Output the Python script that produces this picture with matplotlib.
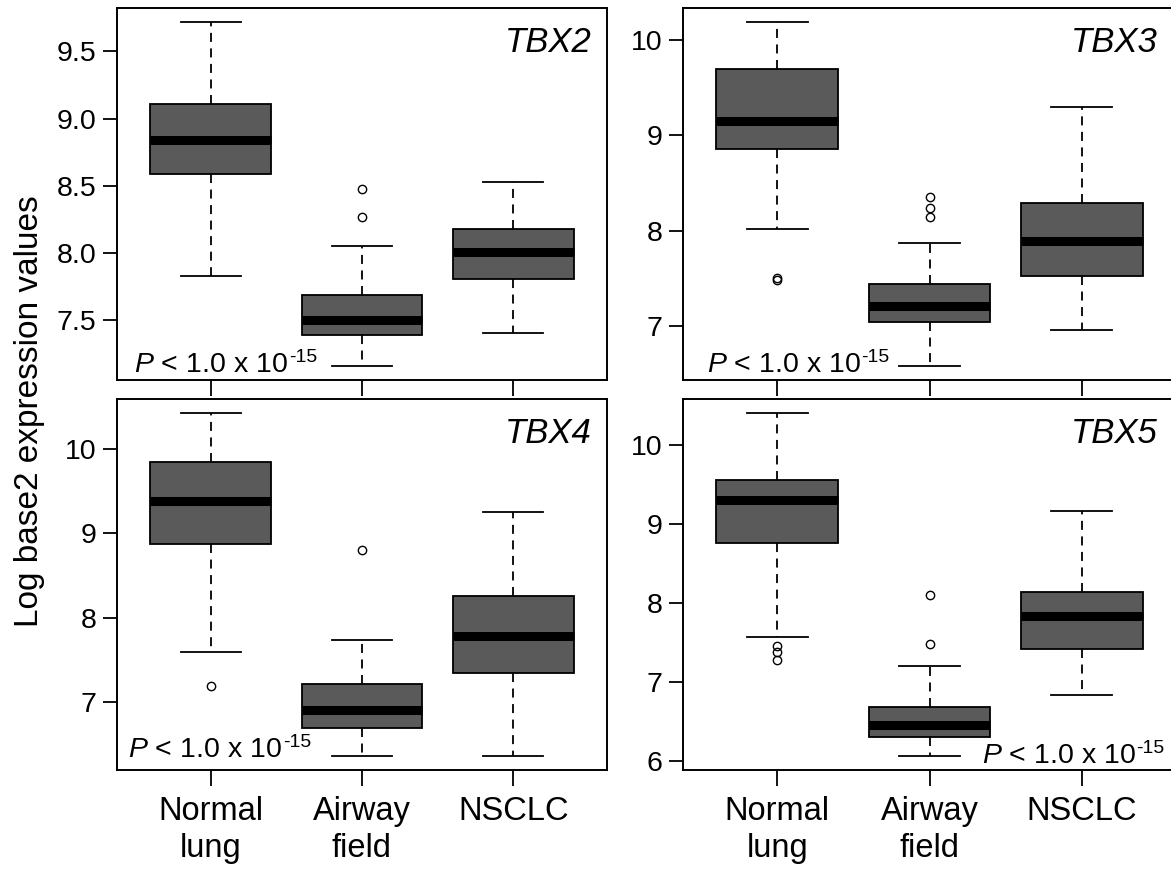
import matplotlib
matplotlib.use('Agg')
import matplotlib.pyplot as plt

plt.rcParams['font.family'] = ['Liberation Sans', 'DejaVu Sans']
plt.rcParams['mathtext.fontset'] = 'custom'
plt.rcParams['mathtext.it'] = 'Liberation Sans:italic'
plt.rcParams['mathtext.rm'] = 'Liberation Sans'

genes = ['TBX2', 'TBX3', 'TBX4', 'TBX5']
groups = ['Normal\nlung', 'Airway\nfield', 'NSCLC']

# one row per gene, one value per group (Normal lung, Airway field, NSCLC)
whislo = [[7.83, 7.16, 7.41], [8.02, 6.58, 6.96], [7.60, 6.36, 6.36], [7.57, 6.06, 6.84]]
q1 = [[8.59, 7.39, 7.81], [8.86, 7.04, 7.53], [8.87, 6.70, 7.35], [8.76, 6.31, 7.42]]
med = [[8.84, 7.50, 8.01], [9.15, 7.21, 7.89], [9.38, 6.91, 7.78], [9.31, 6.45, 7.83]]
q3 = [[9.11, 7.69, 8.18], [9.69, 7.44, 8.29], [9.85, 7.22, 8.26], [9.56, 6.68, 8.14]]
whishi = [[9.72, 8.05, 8.53], [10.19, 7.87, 9.30], [10.43, 7.74, 9.25], [10.41, 7.20, 9.17]]
fliers = [
    [[], [8.27, 8.48], []],
    [[7.48, 7.50], [8.14, 8.24, 8.35], []],
    [[7.19], [8.80], []],
    [[7.28, 7.38, 7.46], [7.48, 8.10], []],
]
yticks = [[7.5, 8.0, 8.5, 9.0, 9.5], [7, 8, 9, 10], [7, 8, 9, 10], [6, 7, 8, 9, 10]]
ytick_fmt = ['%.1f', '%d', '%d', '%d']
p_text = 'P < 1.0 x 10'
p_sup = '-15'

W, H = 1171, 869
# axes boxes in pixels: left, top, right, bottom
boxes_px = [(117, 8, 607, 380), (683, 8, 1176, 380),
            (117, 399, 607, 770), (683, 399, 1176, 770)]
# gene label (right end x, baseline y) and P label (x, baseline y, align) in axes fraction
gene_pos = [(0.969, 0.882), (0.962, 0.882), (0.969, 0.882), (0.962, 0.882)]
p_pos = [(0.035, 0.022, 'left'), (0.048, 0.022, 'left'),
         (0.023, 0.035, 'left'), (0.918, 0.019, 'right')]

fig = plt.figure(figsize=(W / 100, H / 100), dpi=100)

for i, gene in enumerate(genes):
    l, t, r, b = boxes_px[i]
    ax = fig.add_axes([l / W, 1 - b / H, (r - l) / W, (b - t) / H])

    stats = []
    for j in range(len(groups)):
        stats.append(dict(med=med[i][j], q1=q1[i][j], q3=q3[i][j],
                          whislo=whislo[i][j], whishi=whishi[i][j],
                          fliers=fliers[i][j]))
    ax.bxp(stats, positions=[1, 2, 3], widths=0.8, capwidths=0.4,
           patch_artist=True,
           boxprops=dict(facecolor='#5a5a5a', edgecolor='black', linewidth=1.3),
           medianprops=dict(color='black', linewidth=6.5, solid_capstyle='butt'),
           whiskerprops=dict(color='black', linewidth=1.3, linestyle=(0, (5.0, 3.6))),
           capprops=dict(color='black', linewidth=1.3),
           flierprops=dict(marker='o', markersize=6, markerfacecolor='none',
                           markeredgecolor='black', markeredgewidth=1.0))

    # R style limits: data range plus 4%
    vals = whislo[i] + whishi[i] + [v for f in fliers[i] for v in f]
    lo, hi = min(vals), max(vals)
    pad = 0.04 * (hi - lo)
    ax.set_ylim(lo - pad, hi + pad)
    ax.set_xlim(0.38, 3.62)

    ax.set_yticks(yticks[i])
    ax.set_yticklabels([ytick_fmt[i] % v for v in yticks[i]])
    ax.set_xticks([1, 2, 3])
    if i < 2:
        ax.set_xticklabels([])
    else:
        ax.set_xticklabels(groups, linespacing=1.25)

    ax.tick_params(axis='y', length=10, width=1.3, pad=5, labelsize=20.5)
    ax.tick_params(axis='x', length=11.5, width=1.3, pad=7, labelsize=23.5)
    for sp in ax.spines.values():
        sp.set_linewidth(1.4)
        sp.set_clip_on(False)

    gx, gy = gene_pos[i]
    ax.text(gx, gy, gene, transform=ax.transAxes, ha='right', va='baseline',
            style='italic', fontsize=25)

    px, py, pha = p_pos[i]
    main = ax.text(px, py, '$P$' + p_text[1:], transform=ax.transAxes,
                   ha=pha, va='baseline', fontsize=20.5)
    ax.annotate(p_sup, xy=(1, 1), xycoords=main, xytext=(0.5, 2),
                textcoords='offset points', ha='left', va='top', fontsize=14)

fig.text(0.025, 1 - 411 / H, 'Log base2 expression values', rotation=90,
         ha='center', va='center', fontsize=24)

fig.savefig('out.png', dpi=100)
